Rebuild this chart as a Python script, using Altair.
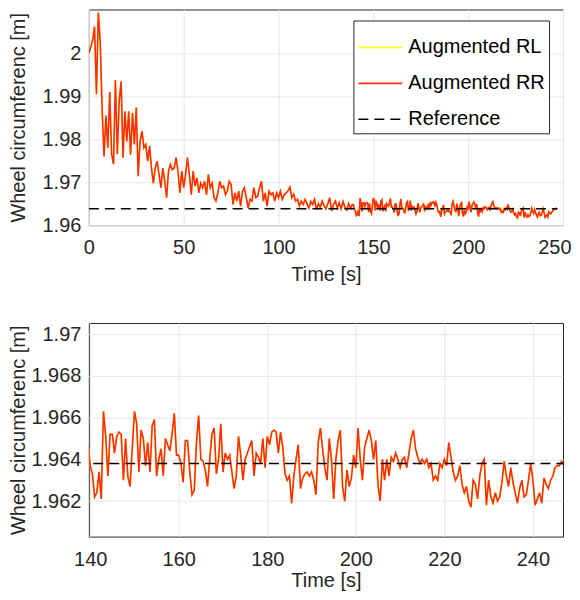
import altair as alt
import pandas as pd

# ---------------- data ----------------
SERIES = ["Augmented RL", "Augmented RR", "Reference"]
REFERENCE_VALUE = 1.9638

# 0 .. 139 s, 1 s sampling
TIME_EARLY = list(range(0, 140))
VALUE_EARLY = [
    2.0000, 2.0015, 2.0030, 2.0062, 1.9905, 2.0095, 2.0025, 1.9870, 1.9760, 1.9855,
    1.9780, 1.9910, 1.9765, 1.9742, 1.9938, 1.9765, 1.9888, 1.9935, 1.9757, 1.9865,
    1.9795, 1.9865, 1.9764, 1.9861, 1.9788, 1.9874, 1.9714, 1.9795, 1.9819, 1.9780,
    1.9788, 1.9749, 1.9784, 1.9733, 1.9698, 1.9733, 1.9749, 1.9718, 1.9687, 1.9733,
    1.9702, 1.9664, 1.9726, 1.9741, 1.9729, 1.9733, 1.9757, 1.9726, 1.9675, 1.9726,
    1.9687, 1.9718, 1.9757, 1.9718, 1.9671, 1.9726, 1.9691, 1.9710, 1.9675, 1.9698,
    1.9687, 1.9702, 1.9671, 1.9718, 1.9687, 1.9698, 1.9664, 1.9656, 1.9675, 1.9702,
    1.9687, 1.9691, 1.9671, 1.9679, 1.9702, 1.9695, 1.9648, 1.9675, 1.9656, 1.9679,
    1.9644, 1.9679, 1.9687, 1.9664, 1.9640, 1.9660, 1.9656, 1.9687, 1.9664, 1.9667,
    1.9687, 1.9702, 1.9656, 1.9675, 1.9644, 1.9679, 1.9671, 1.9675, 1.9656, 1.9675,
    1.9664, 1.9679, 1.9660, 1.9671, 1.9675, 1.9680, 1.9688, 1.9664, 1.9672, 1.9656,
    1.9660, 1.9645, 1.9656, 1.9648, 1.9660, 1.9650, 1.9640, 1.9655, 1.9648, 1.9660,
    1.9636, 1.9650, 1.9642, 1.9656, 1.9645, 1.9638, 1.9650, 1.9664, 1.9633, 1.9648,
    1.9656, 1.9640, 1.9652, 1.9638, 1.9655, 1.9642, 1.9635, 1.9650, 1.9640, 1.9648,
]

# 139.5 .. 247 s, 0.5 s sampling (read from the lower, zoomed panel)
LATE_START = 139.5
LATE_STEP = 0.5
VALUE_LATE = [
    1.9647, 1.9637, 1.9633, 1.9622, 1.9624, 1.9634, 1.9621, 1.9663, 1.9651, 1.9632,
    1.9652, 1.9652, 1.9643, 1.9651, 1.9653, 1.9652, 1.9630, 1.9650, 1.9632, 1.9627,
    1.9645, 1.9663, 1.9657, 1.9634, 1.9654, 1.9650, 1.9637, 1.9648, 1.9634, 1.9656,
    1.9659, 1.9632, 1.9640, 1.9645, 1.9632, 1.9650, 1.9647, 1.9644, 1.9652, 1.9662,
    1.9642, 1.9642, 1.9638, 1.9629, 1.9649, 1.9649, 1.9634, 1.9623, 1.9625, 1.9648,
    1.9661, 1.9640, 1.9639, 1.9635, 1.9627, 1.9640, 1.9652, 1.9655, 1.9633, 1.9640,
    1.9657, 1.9634, 1.9643, 1.9640, 1.9642, 1.9634, 1.9626, 1.9632, 1.9651, 1.9642,
    1.9630, 1.9640, 1.9643, 1.9646, 1.9649, 1.9632, 1.9643, 1.9641, 1.9638, 1.9650,
    1.9636, 1.9651, 1.9647, 1.9653, 1.9654, 1.9653, 1.9643, 1.9653, 1.9646, 1.9633,
    1.9630, 1.9632, 1.9619, 1.9632, 1.9640, 1.9647, 1.9626, 1.9631, 1.9633, 1.9634,
    1.9632, 1.9634, 1.9630, 1.9623, 1.9648, 1.9655, 1.9645, 1.9636, 1.9630, 1.9650,
    1.9640, 1.9621, 1.9640, 1.9649, 1.9654, 1.9627, 1.9620, 1.9635, 1.9627, 1.9631,
    1.9642, 1.9636, 1.9655, 1.9640, 1.9630, 1.9646, 1.9650, 1.9654, 1.9649, 1.9640,
    1.9649, 1.9628, 1.9620, 1.9640, 1.9630, 1.9640, 1.9632, 1.9641, 1.9639, 1.9643,
    1.9640, 1.9636, 1.9640, 1.9641, 1.9636, 1.9643, 1.9650, 1.9654, 1.9645, 1.9641,
    1.9638, 1.9640, 1.9638, 1.9640, 1.9636, 1.9638, 1.9630, 1.9632, 1.9630, 1.9638,
    1.9636, 1.9640, 1.9637, 1.9648, 1.9641, 1.9634, 1.9630, 1.9632, 1.9637, 1.9628,
    1.9624, 1.9627, 1.9620, 1.9617, 1.9630, 1.9628, 1.9621, 1.9632, 1.9638, 1.9640,
    1.9618, 1.9630, 1.9622, 1.9619, 1.9624, 1.9620, 1.9622, 1.9629, 1.9639, 1.9632,
    1.9627, 1.9636, 1.9629, 1.9624, 1.9619, 1.9626, 1.9630, 1.9622, 1.9623, 1.9630,
    1.9638, 1.9630, 1.9618, 1.9621, 1.9624, 1.9619, 1.9631, 1.9628, 1.9626, 1.9630,
    1.9632, 1.9636, 1.9637, 1.9637, 1.9639, 1.9637,
]
TIME_LATE = [LATE_START + LATE_STEP * i for i in range(len(VALUE_LATE))]

TOP_X_TICKS = [0, 50, 100, 150, 200, 250]
TOP_Y_TICKS = [1.96, 1.97, 1.98, 1.99, 2.00]
BOT_X_TICKS = [140, 160, 180, 200, 220, 240]
BOT_Y_TICKS = [1.962, 1.964, 1.966, 1.968, 1.970]

# ---------------- table ----------------
times = TIME_EARLY + TIME_LATE
values = VALUE_EARLY + VALUE_LATE
rows = []
for s in SERIES[:2]:
    for t, v in zip(times, values):
        rows.append({"t": t, "v": v, "series": s})
for t in (times[0], times[-1]):
    rows.append({"t": t, "v": REFERENCE_VALUE, "series": SERIES[2]})
df = pd.DataFrame(rows)

FONT = "Liberation Sans"
TXT = "#262626"
COLORS = ["#ffff00", "#ff2b12", "#000000"]
DASHES = [[1, 0], [1, 0], [10, 6]]
WIDTHS = [1.6, 1.6, 2.0]


def panel(xdom, xticks, ydom, yticks, yfmt, width, height, legx, xlabpad, xtitlepad):
    legend = alt.Legend(
        title=None, orient="none", legendX=legx, legendY=11,
        symbolType="stroke", symbolSize=1936, symbolStrokeWidth=1.6,
        labelFont=FONT, labelFontSize=20, labelColor="#000000",
        strokeColor="#262626", fillColor="white", padding=4,
        rowPadding=3, labelOffset=5,
    )
    x = alt.X("t:Q", scale=alt.Scale(domain=xdom, nice=False, zero=False),
              axis=alt.Axis(values=xticks, title="Time [s]", format="d",
                            labelFlush=False, labelPadding=xlabpad, titlePadding=xtitlepad,
                            labelAlign={"condition": {"test": f"datum.value >= {xdom[1]}", "value": "right"}, "value": "center"},
                            labelOffset={"condition": {"test": f"datum.value >= {xdom[1]}", "value": 8}, "value": 0}))
    y = alt.Y("v:Q", scale=alt.Scale(domain=ydom, nice=False, zero=False),
              axis=alt.Axis(values=yticks, title="Wheel circumferenc [m]",
                            labelExpr=f"format(datum.value, '{yfmt}')",
                            labelFlush=False,
                            minExtent=56, maxExtent=56,
                            labelPadding=8, titlePadding=4))
    return alt.Chart(df).mark_line(clip=True).encode(
        x=x, y=y,
        color=alt.Color("series:N", scale=alt.Scale(domain=SERIES, range=COLORS), legend=legend),
        strokeDash=alt.StrokeDash("series:N", scale=alt.Scale(domain=SERIES, range=DASHES), legend=legend),
        strokeWidth=alt.StrokeWidth("series:N", scale=alt.Scale(domain=SERIES, range=WIDTHS), legend=None),
    ).properties(width=width, height=height)


top = panel([0, 250], TOP_X_TICKS, [1.96, 2.0102], TOP_Y_TICKS, ".2~f", 475, 216, 265, 12, 7)
bottom = panel([139.7, 246.8], BOT_X_TICKS, [1.9603, 1.97053], BOT_Y_TICKS, ".3~f", 475, 214, 265, 13, 1)

chart = alt.vconcat(top, bottom, spacing=37).properties(
    padding={"left": 0, "top": 0, "right": 0, "bottom": 0},
    background="white",
).configure_view(stroke="#262626", strokeWidth=1).configure_axis(
    labelFont=FONT, labelFontSize=20, labelColor=TXT,
    titleFont=FONT, titleFontSize=20, titleFontWeight="normal", titleColor=TXT,
    grid=True, gridColor="#e6e6e6", gridWidth=1, domain=False, ticks=False,
).resolve_scale(color="shared", strokeDash="shared")

chart.save("out.html", embed_options={"renderer": "svg", "actions": False})
